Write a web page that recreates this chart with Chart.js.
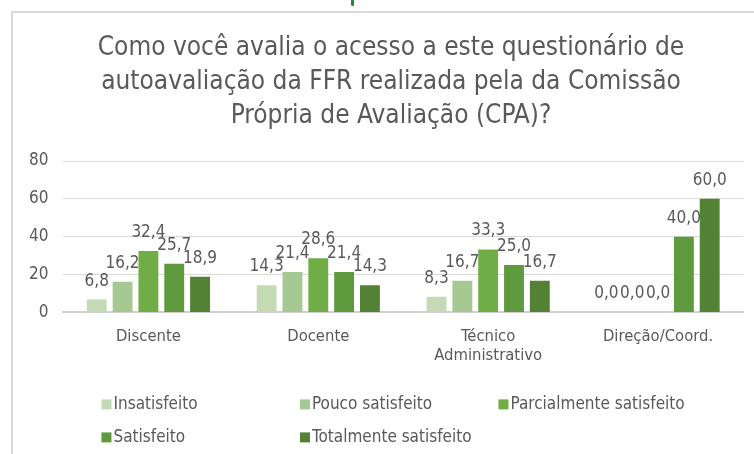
<!DOCTYPE html>
<html>
<head>
<meta charset="utf-8">
<script src="https://cdn.jsdelivr.net/npm/chart.js@4/dist/chart.umd.min.js"></script>
<style>
    html, body { margin: 0; padding: 0; background: #fff; overflow: hidden; }
    #frame {
        position: absolute; left: 11px; top: 11px; right: 0; bottom: 0;
        border-left: 2px solid #d9d9d9; border-top: 2px solid #d9d9d9;
    }
    #tip { position: absolute; left: 351px; top: 0; width: 3px; height: 6px; background: #1e8a3a; border-radius: 0 0 2px 2px; }
    #wrap { position: absolute; left: 13px; top: 13px; width: 741px; height: 441px; }
</style>
</head>
<body>
<div id="tip"></div>
<div id="frame"></div>
<div id="wrap"><canvas id="myChart"></canvas></div>
<script>
const categories = ['Discente', 'Docente', ['Técnico', 'Administrativo'], 'Direção/Coord.'];

const seriesNames = ['Insatisfeito', 'Pouco satisfeito', 'Parcialmente satisfeito', 'Satisfeito', 'Totalmente satisfeito'];
const insatisfeito = [6.8, 14.3, 8.3, 0.0];
const poucoSatisfeito = [16.2, 21.4, 16.7, 0.0];
const parcialmente = [32.4, 28.6, 33.3, 0.0];
const satisfeito = [25.7, 21.4, 25.0, 40.0];
const totalmente = [18.9, 14.3, 16.7, 60.0];
const yTicks = [0, 20, 40, 60, 80];

const titleLines = ['Como você avalia o acesso a este questionário de',
                    'autoavaliação da FFR realizada pela da Comissão',
                    'Própria de Avaliação (CPA)?'];

const colors = ['#c3dab5', '#a6c893', '#70ad47', '#5f9b3e', '#548235'];
const FONT = '"Liberation Sans Narrow", "DejaVu Sans Condensed", "Liberation Sans", sans-serif';
const GREY = '#595959';

function fmt(v) {
    return v.toFixed(1).replace('.', ',');
}

// title drawn by hand so it can sit off-centre like the original
const chartTitle = {
    id: 'chartTitle',
    afterDraw(chart) {
        const ctx = chart.ctx;
        ctx.save();
        ctx.font = '26px ' + FONT;
        ctx.fillStyle = GREY;
        ctx.textAlign = 'center';
        ctx.textBaseline = 'middle';
        titleLines.forEach((t, i) => {
            ctx.fillText(t, 378, 35 + i * 34);
        });
        ctx.restore();
    }
};

// labels above every bar, comma decimals
const valueLabels = {
    id: 'valueLabels',
    afterDatasetsDraw(chart) {
        const ctx = chart.ctx;
        ctx.save();
        ctx.font = '17px ' + FONT;
        ctx.fillStyle = GREY;
        ctx.textAlign = 'center';
        ctx.textBaseline = 'alphabetic';
        chart.data.datasets.forEach((ds, i) => {
            chart.getDatasetMeta(i).data.forEach((bar, j) => {
                ctx.fillText(fmt(ds.data[j]), bar.x, bar.y - 14);
            });
        });
        ctx.restore();
    }
};

// excel-like legend in fixed columns under the plot
const columnLegend = {
    id: 'columnLegend',
    afterDraw(chart) {
        const ctx = chart.ctx;
        const area = chart.chartArea;
        const colW = 198.5;
        const x0 = area.left + 38;
        const y0 = area.bottom + 92;
        const rowH = 33;
        ctx.save();
        ctx.font = '17px ' + FONT;
        ctx.textBaseline = 'middle';
        chart.data.datasets.forEach((ds, i) => {
            const x = x0 + (i % 3) * colW;
            const y = y0 + Math.floor(i / 3) * rowH;
            ctx.fillStyle = ds.backgroundColor;
            ctx.fillRect(x, y - 5, 10, 10);
            ctx.fillStyle = GREY;
            ctx.fillText(ds.label, x + 12, y);
        });
        ctx.restore();
    }
};

const allSeries = [insatisfeito, poucoSatisfeito, parcialmente, satisfeito, totalmente];

const ctx = document.getElementById('myChart').getContext('2d');
const myChart = new Chart(ctx, {
    type: 'bar',
    data: {
        labels: categories,
        datasets: allSeries.map((d, i) => ({
            label: seriesNames[i],
            data: d,
            backgroundColor: colors[i],
            categoryPercentage: 0.76,
            barPercentage: 0.77
        }))
    },
    options: {
        responsive: true,
        maintainAspectRatio: false,
        animation: false,
        layout: {
            padding: { left: 1, right: 11, top: 148, bottom: 74 }
        },
        plugins: {
            legend: { display: false },
            tooltip: { enabled: false },
            title: { display: false }
        },
        scales: {
            x: {
                grid: { display: false, drawTicks: false },
                border: { color: '#d0d0d0', width: 2 },
                ticks: {
                    color: GREY,
                    font: { family: FONT, size: 16.5, lineHeight: 1.2 },
                    maxRotation: 0,
                    autoSkip: false,
                    padding: 14
                }
            },
            y: {
                min: 0,
                max: 80,
                afterBuildTicks(axis) {
                    axis.ticks = yTicks.map(v => ({ value: v }));
                },
                grid: { color: '#d9d9d9', drawTicks: false },
                border: { display: false },
                ticks: {
                    color: GREY,
                    font: { family: FONT, size: 17 },
                    padding: 15
                }
            }
        }
    },
    plugins: [valueLabels, columnLegend, chartTitle]
});
</script>
</body>
</html>
